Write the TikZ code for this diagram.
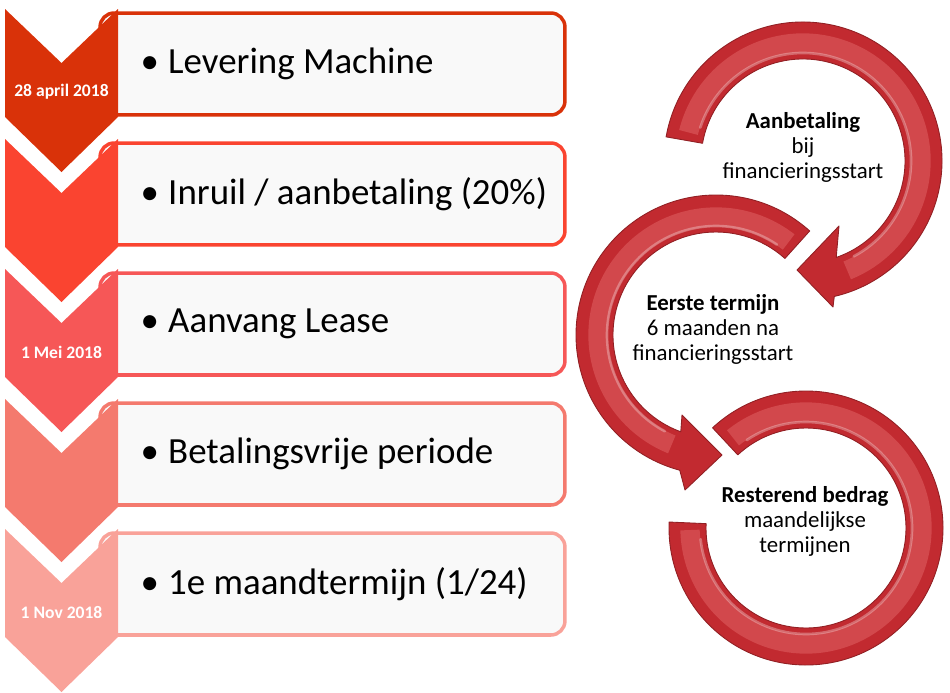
\documentclass[tikz,border=0pt]{standalone}
\usepackage{fontspec}
\setmainfont{Carlito}
\usepackage{tikz}
\usetikzlibrary{positioning}

\definecolor{stap1}{RGB}{217,50,9}
\definecolor{stap2}{RGB}{250,68,48}
\definecolor{stap3}{RGB}{246,87,87}
\definecolor{stap4}{RGB}{244,122,110}
\definecolor{stap5}{RGB}{249,162,153}
\definecolor{vakgrijs}{RGB}{249,249,249}
\definecolor{ringrood}{RGB}{194,42,48}
\definecolor{ringlicht}{RGB}{210,72,76}

\begin{document}
\begin{tikzpicture}[
        x=0.02cm, y=-0.02cm,
        vak/.style={rectangle, draw=#1, line width=2pt, fill=vakgrijs, rounded corners=8pt, minimum width=9.3cm, minimum height=2.04cm, inner sep=0pt},
        item/.style={font=\fontsize{21}{25}\selectfont, inner sep=0pt, anchor=west},
        datum/.style={font=\fontsize{10}{12}\selectfont\bfseries, text=white, inner sep=0pt},
        ring/.style={fill=ringrood, draw=ringrood!75!black, line width=0.5pt, line join=round},
        glans/.style={draw=ringlicht, line width=11pt},
        glimp/.style={draw=white, opacity=0.3, line width=1.5pt, line cap=round},
        ringtekst/.style={align=center, font=\fontsize{13}{14.2}\selectfont, inner sep=0pt}
    ]
    \useasboundingbox (0,0) rectangle (950,693);

    % tijdlijn
    \node (vak1) [vak=stap1] at (332.5,64) {};
    \fill[stap1] (5,9) -- ++(56.5,54) -- ++(56.5,-54) -- ++(0,108) -- ++(-56.5,55) -- ++(-56.5,-55) -- cycle;
    \node (item1) [item, right=0.84cm of vak1.west] {•\hspace{0.25em}Levering Machine};
    \node (datum1) [datum] at (61.5,92) {28 april 2018};

    \node (vak2) [vak=stap2] at (332.5,194) {};
    \fill[stap2] (5,139) -- ++(56.5,54) -- ++(56.5,-54) -- ++(0,108) -- ++(-56.5,55) -- ++(-56.5,-55) -- cycle;
    \node (item2) [item, right=0.84cm of vak2.west] {•\hspace{0.25em}Inruil / aanbetaling (20\%)};

    \node (vak3) [vak=stap3] at (332.5,324) {};
    \fill[stap3] (5,269) -- ++(56.5,54) -- ++(56.5,-54) -- ++(0,108) -- ++(-56.5,55) -- ++(-56.5,-55) -- cycle;
    \node (item3) [item, right=0.84cm of vak3.west] {•\hspace{0.25em}Aanvang Lease};
    \node (datum3) [datum] at (61.5,352) {1 Mei 2018};

    \node (vak4) [vak=stap4] at (332.5,454) {};
    \fill[stap4] (5,399) -- ++(56.5,54) -- ++(56.5,-54) -- ++(0,108) -- ++(-56.5,55) -- ++(-56.5,-55) -- cycle;
    \node (item4) [item, right=0.84cm of vak4.west] {•\hspace{0.25em}Betalingsvrije periode};

    \node (vak5) [vak=stap5] at (332.5,584) {};
    \fill[stap5] (5,529) -- ++(56.5,54) -- ++(56.5,-54) -- ++(0,108) -- ++(-56.5,55) -- ++(-56.5,-55) -- cycle;
    \node (item5) [item, right=0.84cm of vak5.west] {•\hspace{0.25em}1e maandtermijn (1/24)};
    \node (datum5) [datum] at (61.5,612) {1 Nov 2018};

    % cirkelpijlen
    \coordinate (c1) at (803,161);
    \coordinate (c2) at (716,335);
    \coordinate (c3) at (806,528);

    \draw[ring] ([shift={(227:137)}]c3) arc[start angle=227, end angle=542.5, radius=137]
        -- ([shift={(542.5:100)}]c3) arc[start angle=542.5, end angle=227, radius=100] -- cycle;
    \draw[glans] ([shift={(231:116)}]c3) arc[start angle=231, end angle=539, radius=116];
    \draw[glimp] ([shift={(236:106)}]c3) arc[start angle=236, end angle=534, radius=106];

    \draw[ring] ([shift={(312:140)}]c2) arc[start angle=312, end angle=105, radius=140]
        -- (685,490) -- (722,455) -- (682,415)
        -- ([shift={(110:103)}]c2) arc[start angle=110, end angle=312, radius=103] -- cycle;
    \draw[glans] ([shift={(308:118)}]c2) arc[start angle=308, end angle=112, radius=118];
    \draw[glimp] ([shift={(304:109)}]c2) arc[start angle=304, end angle=118, radius=109];

    \draw[ring] ([shift={(190:139)}]c1) arc[start angle=190, end angle=437, radius=139]
        -- (833,307) -- (797,270) -- (839,226)
        -- ([shift={(431:102)}]c1) arc[start angle=431, end angle=190, radius=102] -- cycle;
    \draw[glans] ([shift={(194:118)}]c1) arc[start angle=194, end angle=428, radius=118];
    \draw[glimp] ([shift={(198:108)}]c1) arc[start angle=198, end angle=422, radius=108];

    \node (tekst1) [ringtekst] at (803,147) {\textbf{Aanbetaling}\\bij\\financieringsstart};
    \node (tekst2) [ringtekst] at (713,329) {\textbf{Eerste termijn}\\6 maanden na\\financieringsstart};
    \node (tekst3) [ringtekst] at (805,521) {\textbf{Resterend bedrag}\\maandelijkse\\termijnen};
\end{tikzpicture}
\end{document}
